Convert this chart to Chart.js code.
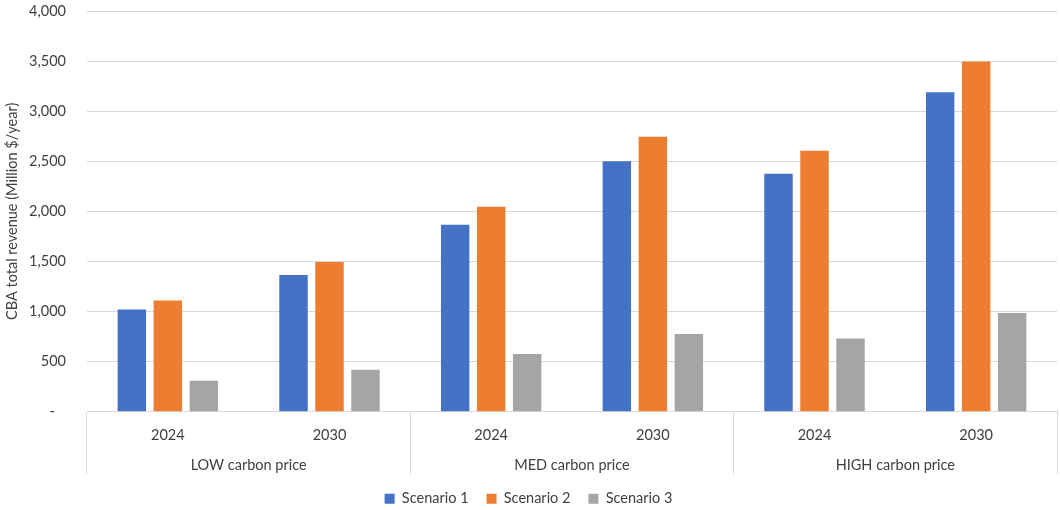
<!DOCTYPE html>
<html>
<head>
<meta charset="utf-8">
<script src="https://cdn.jsdelivr.net/npm/chart.js@4.4.1/dist/chart.umd.min.js"></script>
<style>
  html, body { margin: 0; padding: 0; background: #fff; }
  #wrap { width: 1060px; height: 510px; }
</style>
</head>
<body>
<div id="wrap"><canvas id="revenue_chart"></canvas></div>
<script>
// years shown under each bar cluster, and the carbon price group each pair belongs to
const years = ['2024', '2030', '2024', '2030', '2024', '2030'];
const priceGroups = ['LOW carbon price', 'MED carbon price', 'HIGH carbon price'];

// CBA total revenue, million $/year
const scenario1 = [1020, 1365, 1865, 2500, 2375, 3190];
const scenario2 = [1110, 1495, 2045, 2745, 2605, 3495];
const scenario3 = [310, 420, 575, 775, 730, 985];

const yTicks = { min: 0, max: 4000, step: 500 };

document.addEventListener("DOMContentLoaded", function () {
    Chart.defaults.font.family = 'Lato';
    Chart.defaults.color = '#404040';

    const lineGrey = '#D9D9D9';
    const tickFont = { size: 14.5 };

    var ctx = document.getElementById('revenue_chart').getContext('2d');
    window.revenueChart = new Chart(ctx, {
        type: 'bar',
        data: {
            labels: years,
            datasets: [
                { label: 'Scenario 1', data: scenario1, backgroundColor: '#4472C4' },
                { label: 'Scenario 2', data: scenario2, backgroundColor: '#ED7D31' },
                { label: 'Scenario 3', data: scenario3, backgroundColor: '#A5A5A5' }
            ]
        },
        options: {
            responsive: true,
            maintainAspectRatio: false,
            animation: false,
            categoryPercentage: 0.668,
            barPercentage: 0.79,
            layout: {
                padding: { top: 11, right: 3, bottom: -6, left: 0 }
            },
            scales: {
                y: {
                    min: yTicks.min,
                    max: yTicks.max,
                    afterFit: function (scale) { scale.width = 87; },
                    border: { display: false },
                    // invisible tick marks keep the labels away from the plot
                    // (ticks.padding would also pad the top of the chart area)
                    grid: { color: lineGrey, tickLength: 21, tickColor: 'rgba(0,0,0,0)' },
                    ticks: {
                        stepSize: yTicks.step,
                        padding: 0,
                        font: tickFont,
                        callback: function (value) {
                            return value === 0 ? '-   ' : value.toLocaleString('en-US');
                        }
                    },
                    title: {
                        display: true,
                        text: 'CBA total revenue (Million $/year)',
                        font: { size: 14.5 },
                        padding: { top: 4, bottom: 0 }
                    }
                },
                x: {
                    weight: 1,
                    afterFit: function (scale) { scale.height = 30; },
                    border: { color: lineGrey },
                    // only the lines between price groups are kept, pairs of years share a cell
                    grid: {
                        offset: true,
                        drawOnChartArea: false,
                        tickLength: 30,
                        color: function (c) {
                            return (c.index === undefined || c.index % 2 === 0) ? lineGrey : 'rgba(0,0,0,0)';
                        }
                    },
                    ticks: { padding: -15.4, font: tickFont, autoSkip: false, maxRotation: 0 }
                },
                x2: {
                    type: 'category',
                    labels: priceGroups,
                    position: 'bottom',
                    weight: 2,
                    offset: true,
                    afterFit: function (scale) { scale.height = 31.8; },
                    border: { display: false },
                    grid: {
                        offset: true,
                        drawOnChartArea: false,
                        tickLength: 32,
                        color: lineGrey
                    },
                    ticks: { padding: -17.4, font: tickFont, autoSkip: false, maxRotation: 0 }
                }
            },
            plugins: {
                legend: {
                    display: true,
                    position: 'bottom',
                    labels: {
                        boxWidth: 10,
                        boxHeight: 10,
                        padding: 18,
                        font: tickFont
                    }
                },
                tooltip: { enabled: false }
            }
        }
    });
});
</script>
</body>
</html>
